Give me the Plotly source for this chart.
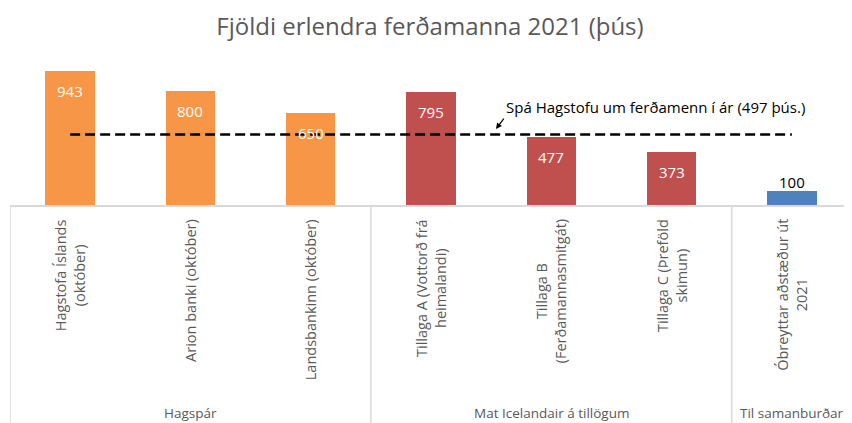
import plotly.graph_objects as go

# data (thousands of foreign tourists)
categories = [
    "Hagstofa Íslands<br>(október)",
    "Arion banki (október)",
    "Landsbankinn (október)",
    "Tillaga A (Vottorð frá<br>heimalandi)",
    "Tillaga B<br>(Ferðamannasmitgát)",
    "Tillaga C (Þreföld<br>skimun)",
    "Óbreyttar aðstæður út<br>2021",
]
values = [943, 800, 650, 795, 477, 373, 100]
groups = ["Hagspár"] * 3 + ["Mat Icelandair á tillögum"] * 3 + ["Til samanburðar"]
hagstofa_spa = 497

ORANGE = "#F79646"
RED = "#C0504D"
BLUE = "#4F81BD"
GREY_TXT = "#595959"
LINE = "#D9D9D9"
FONT = "Open Sans, sans-serif"

group_colors = {"Hagspár": ORANGE, "Mat Icelandair á tillögum": RED, "Til samanburðar": BLUE}
xs = list(range(len(categories)))

fig = go.Figure()
fig.add_trace(go.Bar(
    x=xs, y=values,
    marker=dict(color=[group_colors[g] for g in groups], line=dict(width=0)),
    width=0.41,
    hoverinfo="y",
))

# forecast line across all bars
fig.add_trace(go.Scatter(
    x=[xs[0], xs[-1]], y=[hagstofa_spa, hagstofa_spa],
    mode="lines",
    line=dict(color="black", width=2.5, dash="10px,5px"),
    hoverinfo="skip",
))

annotations = []

# value labels
for x, v, g in zip(xs, values, groups):
    if g == "Til samanburðar":
        annotations.append(dict(x=x, y=v, text=str(v), showarrow=False, yanchor="bottom",
                                yshift=-3, font=dict(size=15, color="black", family=FONT)))
    else:
        annotations.append(dict(x=x, y=v, text=str(v), showarrow=False, yanchor="top",
                                yshift=-8, font=dict(size=15, color="white", family=FONT)))

# rotated category labels
for x, c in zip(xs, categories):
    annotations.append(dict(x=x, y=0, yref="paper", text=c, showarrow=False, textangle=-90,
                            yanchor="top", yshift=-12, align="center",
                            font=dict(size=14.5, color=GREY_TXT, family=FONT)))

# group labels and dividers
shapes = []
seen = []
for g in groups:
    if g not in seen:
        seen.append(g)
for g in seen:
    idx = [i for i, gg in enumerate(groups) if gg == g]
    annotations.append(dict(x=sum(idx) / len(idx), y=0, yref="paper", text=g, showarrow=False,
                            yanchor="middle", yshift=-208,
                            font=dict(size=13.5, color=GREY_TXT, family=FONT)))
    shapes.append(dict(type="line", xref="x", yref="paper", x0=idx[0] - 0.5, x1=idx[0] - 0.5,
                       y0=0, y1=-1.6, line=dict(color=LINE, width=1.5)))

# forecast note + arrow
annotations.append(dict(x=4.87, y=690, text="Spá Hagstofu um ferðamenn í ár (497 þús.)",
                        showarrow=False, font=dict(size=15, color="black", family=FONT)))
annotations.append(dict(x=3.54, y=535, ax=9, ay=-12, text="", showarrow=True,
                        arrowhead=2, arrowsize=1, arrowwidth=1.2, arrowcolor="black"))

# the page body adds an 8px margin, so the figure is sized to fit inside it
fig.update_layout(
    width=844, height=415,
    margin=dict(l=2, r=0, t=55, b=218),
    paper_bgcolor="white", plot_bgcolor="white",
    showlegend=False,
    bargap=0,
    title=dict(text="Fjöldi erlendra ferðamanna 2021 (þús)", x=0.5, xanchor="center",
               y=1 - 18.5 / 415, yanchor="middle", font=dict(size=24, color=GREY_TXT, family=FONT)),
    xaxis=dict(range=[-0.5, len(xs) - 0.5], showticklabels=False, ticks="", showgrid=False,
               zeroline=False, showline=True, linecolor=LINE, linewidth=1.5, fixedrange=True),
    yaxis=dict(range=[0, 1000], visible=False, showgrid=False, zeroline=False, fixedrange=True),
    annotations=annotations,
    shapes=shapes,
)

fig.write_html("out.html")
